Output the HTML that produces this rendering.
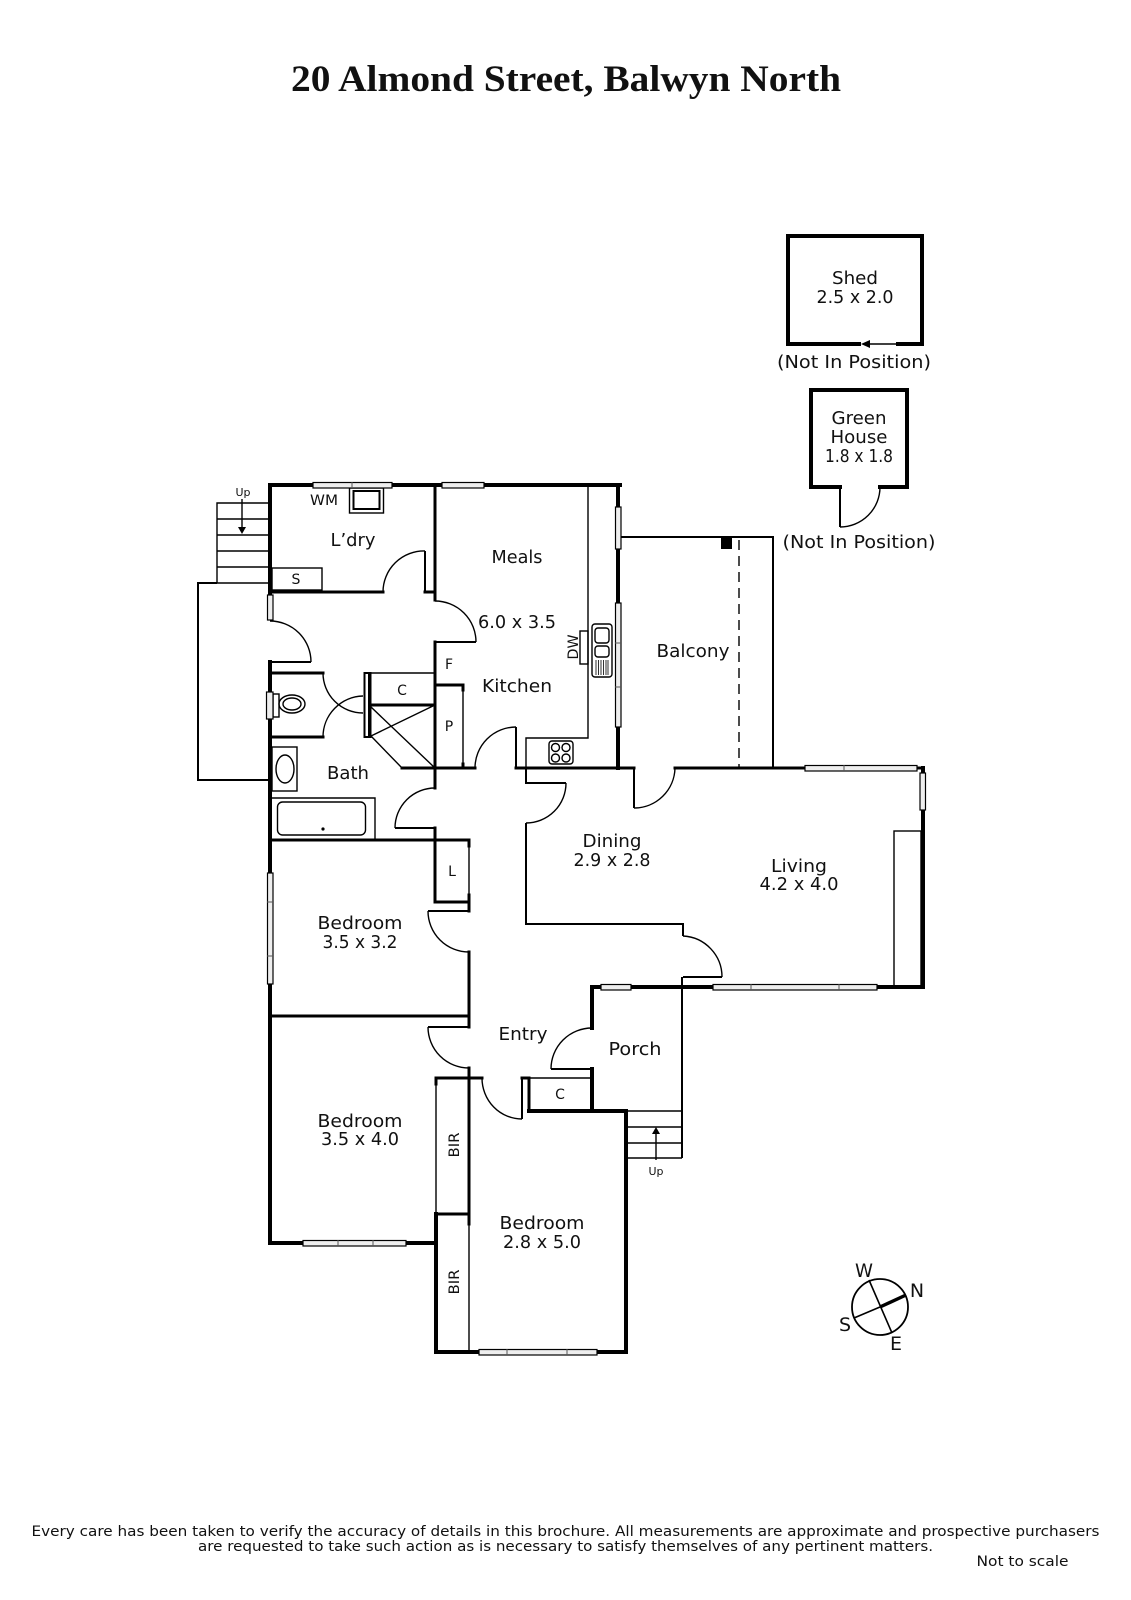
<!DOCTYPE html>
<html><head><meta charset="utf-8"><title>20 Almond Street, Balwyn North</title>
<style>
html,body{margin:0;padding:0;background:#fff}
svg{display:block}
text{font-family:"DejaVu Sans","Liberation Sans",sans-serif;fill:#111;text-anchor:middle}
.w4{stroke:#000;stroke-width:4;fill:none;stroke-linecap:square}
.w3{stroke:#000;stroke-width:3;fill:none;stroke-linecap:square}
.w2{stroke:#000;stroke-width:2;fill:none}
.w1{stroke:#000;stroke-width:1.4;fill:none}
.win{fill:#eee;stroke:#000;stroke-width:1.2}
.wc{stroke:#555;stroke-width:1;fill:none}
</style></head><body>
<svg width="1131" height="1600" viewBox="0 0 1131 1600" xmlns="http://www.w3.org/2000/svg">
<rect width="1131" height="1600" fill="#fff"/>
<text x="566" y="91" style="font-family:'Liberation Serif',serif;font-weight:700;font-size:37px" fill="#000" textLength="550" lengthAdjust="spacingAndGlyphs">20 Almond Street, Balwyn North</text>

<!-- stairs and landing rear -->
<path class="w1" d="M268 503H217V583M217 519H268M217 535H268M217 551H268M217 567H268M217 583H268"/>
<path class="w2" d="M217 583H198V780H270"/>
<path class="w1" d="M242 499V528"/><path d="M238 527H246L242 534Z" fill="#000"/>

<!-- main thick walls -->
<path class="w4" d="M270 485H620M618 485V768"/>
<path class="w4" d="M270 485V593M270 662V1243M270 1243H436"/>
<path class="w3" d="M270 592H383M425 592H435"/>
<path class="w3" d="M435 485V600M435 642V788M435 828V902M435 902H469"/>
<path class="w3" d="M270 673H323M270 737H323"/>
<path class="w3" d="M371 705H435"/>
<path class="w3" d="M402 768H475M516 768H634M675 768H805M917 768H923"/>
<path class="w3" d="M435 685H463"/>
<path class="w3" d="M270 840H469M469 840V846M469 895V911M469 952V1027"/>
<path class="w3" d="M270 1016H469"/>
<path class="w4" d="M923 768V987M592 987H923M592 987V1028M592 1069V1111M529 1111H626M626 1111V1352M436 1352H626M436 1214V1352"/>
<path class="w3" d="M436 1078H482M436 1078V1084M436 1214H469M469 1068V1224M529 1078V1111"/>
<path class="w3" d="M522 1078H529"/>

<!-- thinner walls and door leaves -->
<path class="w2" d="M270 662H311M435 642H476M425 551V592M516 727V768M395 828H435"/>
<path class="w2" d="M526 768V783H566M526 823V924H683V936M683 977H722M682 977V1158"/>
<path class="w2" d="M634 768V808M428 911H469M428 1027H469M522 1078V1119M551 1069H592"/>
<path class="w2" d="M621 537H773V768"/>
<path class="w1" d="M383 592A41 41 0 0 1 425 551M270 621A41 41 0 0 1 311 662M435 601A41 41 0 0 1 476 642M323 673A40 40 0 0 0 363 713M323 737A41 41 0 0 1 363 696M475 768A41 41 0 0 1 516 727M566 783A40 40 0 0 1 526 823M435 788A40 40 0 0 0 395 828M634 808A41 41 0 0 0 675 768M683 936A41 41 0 0 1 722 977M428 911A41 41 0 0 0 469 952M428 1027A41 41 0 0 0 469 1068M482 1078A40 41 0 0 0 522 1119M551 1069A41 41 0 0 1 592 1028"/>

<!-- wc partition -->
<rect x="364.5" y="673" width="6" height="64" fill="#fff" stroke="#000" stroke-width="2"/>
<path d="M368 673H371V737H368Z" fill="#000"/>
<path class="w1" d="M371 673H435"/>
<path class="w1" d="M371 707L435 768M371 736L435 705M371 736L402 768"/>
<path class="w1" d="M463 685V768M436 1078V1214M469 840V903M469 1224V1352M529 1078H592"/>
<path class="w3" d="M463 685V690M463 764V768"/>

<!-- bench/counters -->
<path class="w1" d="M588 485V738H526V768"/>
<rect x="272" y="568" width="50" height="22" class="w1"/>
<rect x="349.5" y="488" width="34" height="25" class="w1"/>
<rect x="353.5" y="491" width="26" height="18" class="w2"/>
<rect x="272" y="747" width="25" height="44" class="w1"/>
<ellipse cx="285" cy="769" rx="9" ry="14" class="w1"/>
<path class="w1" d="M272 798H375V840"/>
<rect x="277.5" y="802" width="88" height="33" rx="5" class="w1"/>
<circle cx="323" cy="829" r="1.6" fill="#000"/>
<rect x="273" y="694" width="6" height="23" class="w1"/>
<ellipse cx="292" cy="704" rx="13" ry="9" class="w1"/><ellipse cx="292" cy="704" rx="9" ry="6" class="w1"/>
<rect x="894" y="831" width="27" height="156" class="w1"/>

<!-- hob -->
<rect x="549" y="741" width="24" height="23" rx="3" class="w1"/>
<circle cx="555.5" cy="747.5" r="4" class="w1"/><circle cx="566" cy="747.5" r="4" class="w1"/><circle cx="555.5" cy="758" r="4" class="w1"/><circle cx="566" cy="758" r="4" class="w1"/>
<!-- sink -->
<rect x="592" y="624" width="20" height="53" rx="3" class="w1"/>
<rect x="595" y="628" width="14" height="15" rx="3" class="w1"/>
<rect x="595" y="646" width="14" height="11" rx="3" class="w1"/>
<path d="M596 660V675M598.5 660V675M601 660V675M603.5 660V675M606 660V675M608 660V675" stroke="#000" stroke-width=".8"/>
<rect x="580" y="631" width="8" height="33" class="w1"/>

<!-- balcony -->
<rect x="721" y="538" width="11" height="11" fill="#000"/>
<path d="M739 540V768" stroke="#000" stroke-width="1.4" stroke-dasharray="10 6" fill="none"/>

<!-- windows -->
<g>
<rect class="win" x="313" y="482.5" width="79" height="5.5"/><path class="wc" d="M352 482V488"/>
<rect class="win" x="442" y="482.5" width="42" height="5.5"/>
<rect class="win" x="267.5" y="595" width="5.5" height="25"/>
<rect class="win" x="266.5" y="692" width="6.5" height="27"/>
<rect class="win" x="267.5" y="873" width="5.5" height="111"/><path class="wc" d="M267 902H273M267 956H273"/>
<rect class="win" x="615.5" y="507" width="5.5" height="42"/>
<rect class="win" x="615.5" y="603" width="5.5" height="124"/><path class="wc" d="M615 643H621M615 687H621"/>
<rect class="win" x="805" y="765.5" width="112" height="5.5"/><path class="wc" d="M844 765V771"/>
<rect class="win" x="920" y="773" width="5.5" height="37"/>
<rect class="win" x="601" y="984.5" width="30" height="5.5"/>
<rect class="win" x="713" y="984.5" width="164" height="5.5"/><path class="wc" d="M751 984V990M839 984V990"/>
<rect class="win" x="303" y="1240.5" width="103" height="5.5"/><path class="wc" d="M338 1240V1246M373 1240V1246"/>
<rect class="win" x="479" y="1349.5" width="118" height="5.5"/><path class="wc" d="M507 1349V1355M567 1349V1355"/>
</g>

<!-- front stairs -->
<path class="w1" d="M627 1111H682"/>
<path class="w1" d="M627 1127H682M627 1143H682M627 1158H682"/>
<path class="w1" d="M656 1133V1160"/><path d="M652 1134H660L656 1127Z" fill="#000"/>

<!-- shed -->
<path class="w4" d="M859 344H788V236H922V344H898"/>
<path class="w1" d="M897 344H866"/><path d="M870 340V348L861 344Z" fill="#000"/>
<!-- green house -->
<path class="w4" d="M840 487H811V390H907V487H880"/>
<path class="w2" d="M840 487V527"/><path class="w1" d="M840 527A40 40 0 0 0 880 487"/>

<!-- compass -->
<circle cx="880" cy="1307" r="28" fill="none" stroke="#000" stroke-width="1.8"/>
<path d="M854 1318L880 1307M869 1280L892 1333" stroke="#000" stroke-width="1.6"/>
<path d="M880 1307L906 1295" stroke="#000" stroke-width="3.4"/>
<g style="font-size:19px">
<text x="864" y="1277" textLength="18" lengthAdjust="spacingAndGlyphs">W</text>
<text x="917" y="1297">N</text>
<text x="845" y="1331">S</text>
<text x="896" y="1350">E</text>
</g>

<!-- labels -->
<g style="font-size:18px">
<text x="353" y="546" textLength="45" lengthAdjust="spacingAndGlyphs">L’dry</text>
<text x="517" y="563" textLength="51" lengthAdjust="spacingAndGlyphs">Meals</text>
<text x="517" y="628" textLength="78" lengthAdjust="spacingAndGlyphs">6.0 x 3.5</text>
<text x="517" y="692" textLength="70" lengthAdjust="spacingAndGlyphs">Kitchen</text>
<text x="348" y="779" textLength="42" lengthAdjust="spacingAndGlyphs">Bath</text>
<text x="693" y="657" textLength="73" lengthAdjust="spacingAndGlyphs">Balcony</text>
<text x="612" y="847" textLength="59" lengthAdjust="spacingAndGlyphs">Dining</text>
<text x="612" y="866" textLength="77" lengthAdjust="spacingAndGlyphs">2.9 x 2.8</text>
<text x="799" y="872" textLength="56" lengthAdjust="spacingAndGlyphs">Living</text>
<text x="799" y="890" textLength="79" lengthAdjust="spacingAndGlyphs">4.2 x 4.0</text>
<text x="360" y="929" textLength="85" lengthAdjust="spacingAndGlyphs">Bedroom</text>
<text x="360" y="948" textLength="75" lengthAdjust="spacingAndGlyphs">3.5 x 3.2</text>
<text x="360" y="1127" textLength="85" lengthAdjust="spacingAndGlyphs">Bedroom</text>
<text x="360" y="1145" textLength="78" lengthAdjust="spacingAndGlyphs">3.5 x 4.0</text>
<text x="542" y="1229" textLength="85" lengthAdjust="spacingAndGlyphs">Bedroom</text>
<text x="542" y="1248" textLength="78" lengthAdjust="spacingAndGlyphs">2.8 x 5.0</text>
<text x="523" y="1040" textLength="49" lengthAdjust="spacingAndGlyphs">Entry</text>
<text x="635" y="1055" textLength="53" lengthAdjust="spacingAndGlyphs">Porch</text>
<text x="855" y="284" textLength="46" lengthAdjust="spacingAndGlyphs">Shed</text>
<text x="855" y="303" textLength="77" lengthAdjust="spacingAndGlyphs">2.5 x 2.0</text>
<text x="854" y="368" textLength="154" lengthAdjust="spacingAndGlyphs">(Not In Position)</text>
<text x="859" y="424" textLength="55" lengthAdjust="spacingAndGlyphs">Green</text>
<text x="859" y="443" textLength="57" lengthAdjust="spacingAndGlyphs">House</text>
<text x="859" y="462" textLength="68" lengthAdjust="spacingAndGlyphs">1.8 x 1.8</text>
<text x="859" y="548" textLength="153" lengthAdjust="spacingAndGlyphs">(Not In Position)</text>
</g>
<g style="font-size:14px">
<text x="324" y="505" textLength="28" lengthAdjust="spacingAndGlyphs">WM</text>
<text x="296" y="584">S</text>
<text x="402" y="695">C</text>
<text x="449" y="669">F</text>
<text x="449" y="731">P</text>
<text x="452" y="876">L</text>
<text x="560" y="1099">C</text>
<text transform="translate(578 647) rotate(-90)" textLength="25" lengthAdjust="spacingAndGlyphs">DW</text>
<text transform="translate(459 1145) rotate(-90)" textLength="25" lengthAdjust="spacingAndGlyphs">BIR</text>
<text transform="translate(459 1282) rotate(-90)" textLength="25" lengthAdjust="spacingAndGlyphs">BIR</text>
</g>
<g style="font-size:10.5px">
<text x="243" y="496" textLength="15" lengthAdjust="spacingAndGlyphs">Up</text>
<text x="656" y="1175" textLength="15" lengthAdjust="spacingAndGlyphs">Up</text>
</g>

<!-- footer -->
<g style="font-size:14px">
<text x="565.5" y="1536" textLength="1068" lengthAdjust="spacingAndGlyphs">Every care has been taken to verify the accuracy of details in this brochure.  All measurements are approximate and prospective purchasers</text>
<text x="565.5" y="1551" textLength="735" lengthAdjust="spacingAndGlyphs">are requested to take such action as is necessary to satisfy themselves of any pertinent matters.</text>
<text x="1022.5" y="1566" textLength="92" lengthAdjust="spacingAndGlyphs">Not to scale</text>
</g>
</svg>
</body></html>
